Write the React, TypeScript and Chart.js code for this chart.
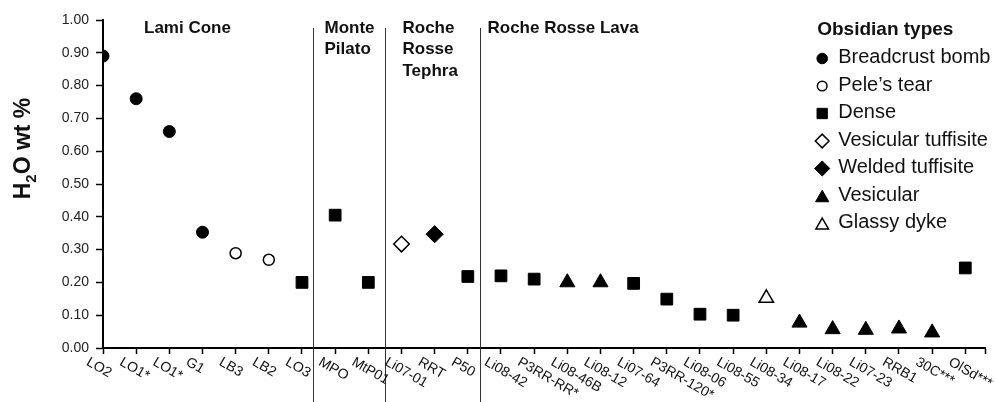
import React, { useEffect, useRef } from 'react';
import { Chart, registerables } from 'chart.js';

Chart.register(...registerables);

// ---------- data ----------
const categories = [
  'LO2', 'LO1*', 'LO1*', 'G1', 'LB3', 'LB2', 'LO3', 'MPO', 'MtP01',
  'Li07-01', 'RRT', 'P50',
  'Li08-42', 'P3RR-RR*', 'Li08-46B', 'Li08-12', 'Li07-64', 'P3RR-120*', 'Li08-06', 'Li08-55',
  'Li08-34', 'Li08-17', 'Li08-22', 'Li07-23', 'RRB1', '30C***', 'OlSd***',
];

const h2oWt = [
  0.89, 0.76, 0.66, 0.353, 0.289, 0.269, 0.20, 0.405, 0.20,
  0.317, 0.347, 0.218,
  0.22, 0.21, 0.20, 0.20, 0.197, 0.149, 0.103, 0.10,
  0.152, 0.077, 0.057, 0.055, 0.059, 0.047, 0.244,
];

const sampleType = [
  'Breadcrust bomb', 'Breadcrust bomb', 'Breadcrust bomb', 'Breadcrust bomb',
  'Pele\u2019s tear', 'Pele\u2019s tear',
  'Dense', 'Dense', 'Dense',
  'Vesicular tuffisite', 'Welded tuffisite', 'Dense',
  'Dense', 'Dense', 'Vesicular', 'Vesicular', 'Dense', 'Dense', 'Dense', 'Dense',
  'Glassy dyke', 'Vesicular', 'Vesicular', 'Vesicular', 'Vesicular', 'Vesicular', 'Dense',
];

const typeNames = [
  'Breadcrust bomb', 'Pele\u2019s tear', 'Dense', 'Vesicular tuffisite',
  'Welded tuffisite', 'Vesicular', 'Glassy dyke',
];

const groupNames = [['Lami Cone'], ['Monte', 'Pilato'], ['Roche', 'Rosse', 'Tephra'], ['Roche Rosse Lava']];
// boundaries between groups, in category-index units
const groupBounds = [6.33, 8.49, 11.36];

const yTickValues = [0, 0.1, 0.2, 0.3, 0.4, 0.5, 0.6, 0.7, 0.8, 0.9, 1.0];

// ---------- styles ----------
const FONT = '"Liberation Sans", Arial, Helvetica, sans-serif';
const typeStyles: Record<string, { pointStyle: string; filled: boolean; radius: number }> = {
  'Breadcrust bomb': { pointStyle: 'circle', filled: true, radius: 6 },
  'Pele\u2019s tear': { pointStyle: 'circle', filled: false, radius: 5.5 },
  'Dense': { pointStyle: 'rect', filled: true, radius: 8.3 },
  'Vesicular tuffisite': { pointStyle: 'rectRot', filled: false, radius: 7.8 },
  'Welded tuffisite': { pointStyle: 'rectRot', filled: true, radius: 8.6 },
  'Vesicular': { pointStyle: 'triangle', filled: true, radius: 8.7 },
  'Glassy dyke': { pointStyle: 'triangle', filled: false, radius: 8.3 },
};

const X_MAX = 26.6;

function drawMarker(ctx: CanvasRenderingContext2D, style: string, filled: boolean, x: number, y: number, r: number) {
  ctx.beginPath();
  if (style === 'circle') {
    ctx.arc(x, y, r, 0, Math.PI * 2);
  } else if (style === 'rect') {
    const s = Math.SQRT1_2 * r;
    ctx.rect(x - s, y - s, 2 * s, 2 * s);
  } else if (style === 'rectRot') {
    ctx.moveTo(x - r, y);
    ctx.lineTo(x, y - r);
    ctx.lineTo(x + r, y);
    ctx.lineTo(x, y + r);
    ctx.closePath();
  } else {
    ctx.moveTo(x, y - r);
    ctx.lineTo(x + 0.866 * r, y + 0.5 * r);
    ctx.lineTo(x - 0.866 * r, y + 0.5 * r);
    ctx.closePath();
  }
  ctx.fillStyle = filled ? '#000' : '#fff';
  ctx.fill();
  ctx.lineWidth = filled ? 1 : 1.5;
  ctx.strokeStyle = '#000';
  ctx.stroke();
}

const overlayPlugin = {
  id: 'overlay',
  afterDraw(chart: any) {
    const { ctx, chartArea } = chart;
    const xs = chart.scales.x;
    ctx.save();

    // group separators
    const seps = groupBounds.map((b) => Math.round(xs.getPixelForValue(b)) + 0.5);
    ctx.strokeStyle = '#333';
    ctx.lineWidth = 1;
    seps.forEach((px) => {
      ctx.beginPath();
      ctx.moveTo(px, 28);
      ctx.lineTo(px, chart.height);
      ctx.stroke();
    });

    // group labels
    ctx.fillStyle = '#111';
    ctx.font = `bold 17px ${FONT}`;
    ctx.textBaseline = 'middle';
    ctx.textAlign = 'left';
    const labelX = [chartArea.left + 41, seps[0] + 11, seps[1] + 17, seps[2] + 7];
    groupNames.forEach((lines, g) => {
      lines.forEach((t, k) => ctx.fillText(t, labelX[g], 28 + k * 21.5));
    });

    // x category labels (rotated clockwise)
    ctx.font = `14px ${FONT}`;
    ctx.textBaseline = 'top';
    ctx.fillStyle = '#111';
    categories.forEach((c, i) => {
      const px = xs.getPixelForValue(i);
      ctx.save();
      ctx.translate(px - 12, chartArea.bottom + 7);
      ctx.rotate(Math.PI / 6);
      ctx.fillText(c, 0, 0);
      ctx.restore();
    });

    // y axis title with subscript
    ctx.save();
    ctx.translate(30, 148.5);
    ctx.rotate(-Math.PI / 2);
    const big = `bold 23px ${FONT}`;
    const small = `bold 15px ${FONT}`;
    ctx.font = big;
    const wH = ctx.measureText('H').width;
    const wRest = ctx.measureText('O wt %').width;
    ctx.font = small;
    const w2 = ctx.measureText('2').width;
    let cx = -(wH + w2 + wRest) / 2;
    ctx.textBaseline = 'alphabetic';
    ctx.font = big;
    ctx.fillText('H', cx, 0);
    cx += wH;
    ctx.font = small;
    ctx.fillText('2', cx, 6);
    cx += w2;
    ctx.font = big;
    ctx.fillText('O wt %', cx, 0);
    ctx.restore();

    // legend
    const lx = chartArea.right - 168;
    ctx.fillStyle = '#111';
    ctx.textBaseline = 'middle';
    ctx.font = `bold 19px ${FONT}`;
    ctx.fillText('Obsidian types', lx, 30);
    typeNames.forEach((name, k) => {
      const cy = 57.5 + k * 27.5;
      const st = typeStyles[name];
      const r = st.radius * 0.88;
      const my = st.pointStyle === 'triangle' ? cy + 1 + 0.25 * r : cy + 1;
      drawMarker(ctx, st.pointStyle, st.filled, lx + 5, my, r);
      ctx.fillStyle = '#111';
      ctx.font = `20px ${FONT}`;
      ctx.fillText(name, lx + 21, cy);
    });

    ctx.restore();
  },
};

export default function App() {
  const ref = useRef<HTMLCanvasElement | null>(null);

  useEffect(() => {
    if (!ref.current) return;
    const datasets = typeNames.map((name) => {
      const st = typeStyles[name];
      const data = categories
        .map((_, i) => ({ x: i, y: h2oWt[i], t: sampleType[i] }))
        .filter((p) => p.t === name)
        .map((p) => ({ x: p.x, y: p.y }));
      return {
        label: name,
        data,
        pointStyle: st.pointStyle as any,
        pointRadius: st.radius,
        pointHoverRadius: st.radius,
        backgroundColor: st.filled ? '#000' : '#fff',
        borderColor: '#000',
        borderWidth: st.filled ? 1 : 1.5,
        showLine: false,
      };
    });

    const chart = new Chart(ref.current, {
      type: 'scatter',
      data: { datasets },
      options: {
        animation: false,
        responsive: false,
        devicePixelRatio: 1,
        layout: { padding: { top: 20, right: 5, left: 0, bottom: 0 } },
        plugins: { legend: { display: false }, tooltip: { enabled: false } },
        scales: {
          x: {
            type: 'linear',
            min: 0,
            max: X_MAX,
            afterBuildTicks: (s: any) => {
              s.ticks = [...categories.map((_, i) => ({ value: i })), { value: X_MAX }];
            },
            ticks: { display: false },
            grid: {
              drawOnChartArea: false,
              drawTicks: true,
              tickLength: 6,
              color: '#000',
              tickColor: '#000',
              tickWidth: 1.5,
            },
            border: { display: true, color: '#000', width: 2 },
            afterFit: (s: any) => {
              s.height = 54;
            },
          },
          y: {
            type: 'linear',
            min: 0,
            max: 1,
            afterBuildTicks: (s: any) => {
              s.ticks = yTickValues.map((v) => ({ value: v }));
            },
            ticks: {
              callback: (v: any) => Number(v).toFixed(2),
              font: { size: 14, family: FONT },
              color: '#222',
              padding: 7,
            },
            grid: {
              drawOnChartArea: false,
              drawTicks: true,
              tickLength: 7,
              color: '#000',
              tickColor: '#000',
              tickWidth: 1.5,
            },
            border: { display: true, color: '#000', width: 2 },
            afterFit: (s: any) => {
              s.width = 103;
            },
          },
        },
      },
      plugins: [overlayPlugin],
    });
    return () => chart.destroy();
  }, []);

  return (
    <div style={{ position: 'absolute', left: 0, top: 0, width: 995, height: 402, background: '#fff' }}>
      <canvas ref={ref} width={995} height={402} />
    </div>
  );
}
